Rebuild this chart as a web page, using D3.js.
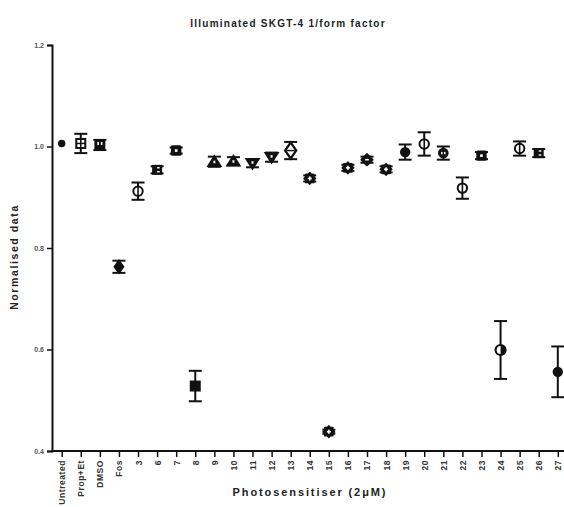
<!DOCTYPE html>
<html>
<head>
<meta charset="utf-8">
<script src="https://cdn.jsdelivr.net/npm/d3@7"></script>
<style>
  html, body { margin: 0; padding: 0; background: #fff; }
  svg { display: block; font-family: "Liberation Sans", Arial, sans-serif; }
</style>
</head>
<body>
<svg id="chart" width="564" height="507"></svg>
<script>
// Treatment groups along the x axis
const categories = ["Untreated", "Prop+Et", "DMSO", "Fos", "3", "6", "7", "8", "9", "10",
  "11", "12", "13", "14", "15", "16", "17", "18", "19", "20",
  "21", "22", "23", "24", "25", "26", "27"];

// Normalised 1/form factor (mean) for each group
const means = [1.006, 1.006, 1.003, 0.763, 0.912, 0.954, 0.992, 0.528, 0.970, 0.971,
  0.967, 0.979, 0.992, 0.937, 0.438, 0.958, 0.974, 0.955, 0.989, 1.005,
  0.987, 0.918, 0.982, 0.599, 0.996, 0.987, 0.556];

// Error bar half-widths
const errors = [0.000, 0.019, 0.010, 0.012, 0.017, 0.007, 0.006, 0.030, 0.010, 0.008,
  0.008, 0.009, 0.017, 0.006, 0.004, 0.006, 0.006, 0.006, 0.015, 0.023,
  0.013, 0.021, 0.007, 0.057, 0.014, 0.008, 0.050];

// Y axis tick values
const yTicks = [0.4, 0.6, 0.8, 1.0, 1.2];

// Marker style for each group
const symbolKinds = ["dot", "squareOpen", "squareSplit", "diamond", "circleOpen", "squareStripe",
  "squareDot", "square", "triangleDot", "triangleDot", "triangleDown", "triangleDown",
  "diamondOpen", "gear", "gear", "gear", "gearDiamond", "gear", "circle", "circleOpen",
  "circleDot", "circleOpen", "squareDot", "circleHalf", "circleOpen", "squareStripe", "circle"];

const svg = d3.select("#chart");
const margin = { left: 52 };
const plotBottom = 451;

const x = d3.scalePoint()
  .domain(categories)
  .range([61.7, 557.8]);

const y = d3.scaleLinear()
  .domain([0.4, 1.2])
  .range([plotBottom, 45]);

// Title
svg.append("text")
  .attr("x", 288)
  .attr("y", 27)
  .attr("text-anchor", "middle")
  .attr("font-size", 10)
  .attr("font-weight", "bold")
  .attr("letter-spacing", 1.25)
  .attr("fill", "#222")
  .text("Illuminated SKGT-4 1/form factor");

// Y axis
const yAxis = svg.append("g")
  .attr("transform", `translate(${margin.left},0)`)
  .call(d3.axisLeft(y).tickValues(yTicks).tickFormat(d3.format(".1f")).tickSize(5).tickPadding(3));
yAxis.select(".domain").attr("stroke-width", 2).attr("stroke", "#111");
yAxis.selectAll(".tick line").attr("stroke-width", 1.5).attr("stroke", "#111");
yAxis.selectAll(".tick text")
  .attr("font-size", 7)
  .attr("font-weight", "bold")
  .attr("fill", "#555")
  .attr("font-family", "Liberation Sans, Arial, sans-serif");

// X axis
const xAxis = svg.append("g")
  .attr("transform", `translate(0,${plotBottom})`)
  .call(d3.axisBottom(x).tickSize(6).tickPadding(4));
xAxis.select(".domain").remove();
xAxis.append("line")
  .attr("x1", margin.left - 1).attr("x2", 564)
  .attr("y1", 0).attr("y2", 0)
  .attr("stroke", "#111").attr("stroke-width", 2);
xAxis.selectAll(".tick line").attr("stroke-width", 1.5).attr("stroke", "#111");
xAxis.selectAll(".tick text")
  .attr("font-size", 8.5)
  .attr("font-weight", "bold")
  .attr("fill", "#333")
  .attr("letter-spacing", 0.55)
  .attr("font-family", "Liberation Sans, Arial, sans-serif")
  .attr("text-anchor", "end")
  .attr("dy", null)
  .attr("transform", "rotate(-90)")
  .attr("x", -9)
  .attr("y", 3);

// Axis titles
svg.append("text")
  .attr("transform", "translate(18,257) rotate(-90)")
  .attr("text-anchor", "middle")
  .attr("font-size", 10.5)
  .attr("font-weight", "bold")
  .attr("letter-spacing", 1.6)
  .attr("fill", "#222")
  .text("Normalised data");

svg.append("text")
  .attr("x", 310)
  .attr("y", 496)
  .attr("text-anchor", "middle")
  .attr("font-size", 11)
  .attr("font-weight", "bold")
  .attr("letter-spacing", 1.9)
  .attr("fill", "#222")
  .text("Photosensitiser (2\u03bcM)");

// Error bars
const capHalf = 6.5;
const bars = svg.append("g").attr("stroke", "#111").attr("stroke-width", 2).attr("fill", "none");
categories.forEach((c, i) => {
  if (errors[i] <= 0) return;
  const cx = x(c), hi = y(means[i] + errors[i]), lo = y(means[i] - errors[i]);
  bars.append("line").attr("x1", cx).attr("x2", cx).attr("y1", hi).attr("y2", lo);
  bars.append("line").attr("x1", cx - capHalf).attr("x2", cx + capHalf).attr("y1", hi).attr("y2", hi);
  bars.append("line").attr("x1", cx - capHalf).attr("x2", cx + capHalf).attr("y1", lo).attr("y2", lo);
});

// Rounded cog outline used for several groups
function gearPath(rOuter, rInner, teeth) {
  const pts = [];
  for (let k = 0; k < teeth * 2; k++) {
    const a = (Math.PI * k) / teeth - Math.PI / 2;
    const r = k % 2 === 0 ? rOuter : rInner;
    pts.push([r * Math.cos(a), r * Math.sin(a)]);
  }
  return d3.line().curve(d3.curveCardinalClosed.tension(0.6))(pts);
}

// Markers
const ink = "#111";
function drawMarker(g, kind) {
  const sym = (type, size) => d3.symbol().type(type).size(size)();
  switch (kind) {
    case "dot":
      g.append("circle").attr("r", 3.7).attr("fill", ink);
      break;
    case "circle":
      g.append("circle").attr("r", 5.2).attr("fill", ink);
      break;
    case "circleOpen":
      g.append("circle").attr("r", 4.7).attr("fill", "#fff").attr("stroke", ink).attr("stroke-width", 2);
      g.append("line").attr("y1", -4.7).attr("y2", 4.7).attr("stroke", ink).attr("stroke-width", 1.6);
      break;
    case "circleHalf":
      g.append("circle").attr("r", 5).attr("fill", "#fff").attr("stroke", ink).attr("stroke-width", 2.2);
      g.append("path").attr("d", "M0,-5A5,5 0 0,1 0,5Z").attr("fill", ink);
      break;
    case "circleDot":
      g.append("circle").attr("r", 5.3).attr("fill", ink);
      g.append("rect").attr("x", -2.2).attr("y", -1.2).attr("width", 1.5).attr("height", 2.4).attr("fill", "#fff");
      g.append("rect").attr("x", 0.7).attr("y", -1.2).attr("width", 1.5).attr("height", 2.4).attr("fill", "#fff");
      break;
    case "square":
      g.append("rect").attr("x", -5.5).attr("y", -5.5).attr("width", 11).attr("height", 11).attr("fill", ink);
      break;
    case "squareOpen":
      g.append("rect").attr("x", -4.5).attr("y", -4.5).attr("width", 9).attr("height", 9)
        .attr("fill", "#fff").attr("stroke", ink).attr("stroke-width", 2);
      g.append("line").attr("y1", -4.5).attr("y2", 4.5).attr("stroke", ink).attr("stroke-width", 1.5);
      g.append("line").attr("x1", -4.5).attr("x2", 4.5).attr("stroke", ink).attr("stroke-width", 1.5);
      break;
    case "squareSplit":
      g.append("rect").attr("x", -5.5).attr("y", -5.5).attr("width", 11).attr("height", 11).attr("rx", 2.2).attr("fill", ink);
      g.append("rect").attr("x", -2.5).attr("y", -3).attr("width", 1.6).attr("height", 3).attr("fill", "#fff");
      g.append("rect").attr("x", 1).attr("y", -3).attr("width", 1.6).attr("height", 3).attr("fill", "#fff");
      break;
    case "squareStripe":
      g.append("rect").attr("x", -5).attr("y", -5).attr("width", 10).attr("height", 10).attr("fill", ink);
      g.append("rect").attr("x", 0).attr("y", -2.8).attr("width", 2.6).attr("height", 1.4).attr("fill", "#fff");
      g.append("rect").attr("x", 0).attr("y", 1.2).attr("width", 2.6).attr("height", 1.4).attr("fill", "#fff");
      break;
    case "squareDot":
      g.append("rect").attr("x", -5.2).attr("y", -5.2).attr("width", 10.4).attr("height", 10.4).attr("rx", 1.5).attr("fill", ink);
      g.append("rect").attr("x", -1.3).attr("y", -1.3).attr("width", 2.6).attr("height", 2.6).attr("fill", "#fff");
      break;
    case "diamond":
      g.append("path").attr("d", sym(d3.symbolDiamond, 70)).attr("fill", ink).attr("transform", "scale(1.25,1)");
      break;
    case "diamondOpen":
      g.append("path").attr("d", sym(d3.symbolDiamond, 75)).attr("fill", "#fff").attr("stroke", ink).attr("stroke-width", 2).attr("transform", "scale(1.2,1)");
      g.append("line").attr("x1", -4).attr("x2", 4).attr("stroke", ink).attr("stroke-width", 1.5);
      break;
    case "triangleDot":
      g.append("path").attr("d", sym(d3.symbolTriangle, 90)).attr("fill", ink).attr("transform", "translate(0,1) scale(1.1,1)");
      g.append("rect").attr("x", -1).attr("y", -1).attr("width", 2).attr("height", 2.5).attr("fill", "#fff");
      break;
    case "triangleDown":
      g.append("path").attr("d", sym(d3.symbolTriangle, 90)).attr("fill", ink).attr("transform", "translate(0,-1) rotate(180) scale(1.1,1)");
      g.append("rect").attr("x", -1).attr("y", -2).attr("width", 2).attr("height", 2.5).attr("fill", "#fff");
      break;
    case "gear":
      g.append("path").attr("d", gearPath(6.6, 5.3, 8)).attr("fill", ink);
      g.append("rect").attr("x", -2).attr("y", -0.8).attr("width", 4).attr("height", 1.6).attr("fill", "#fff");
      g.append("rect").attr("x", -0.8).attr("y", -2).attr("width", 1.6).attr("height", 4).attr("fill", "#fff");
      break;
    case "gearDiamond":
      g.append("path").attr("d", gearPath(6.6, 4.9, 4)).attr("fill", ink);
      g.append("rect").attr("x", -1.8).attr("y", -0.8).attr("width", 3.6).attr("height", 1.6).attr("fill", "#fff");
      break;
  }
}

const marks = svg.append("g");
categories.forEach((c, i) => {
  const g = marks.append("g").attr("transform", `translate(${x(c)},${y(means[i])})`);
  drawMarker(g, symbolKinds[i]);
});
</script>
</body>
</html>
